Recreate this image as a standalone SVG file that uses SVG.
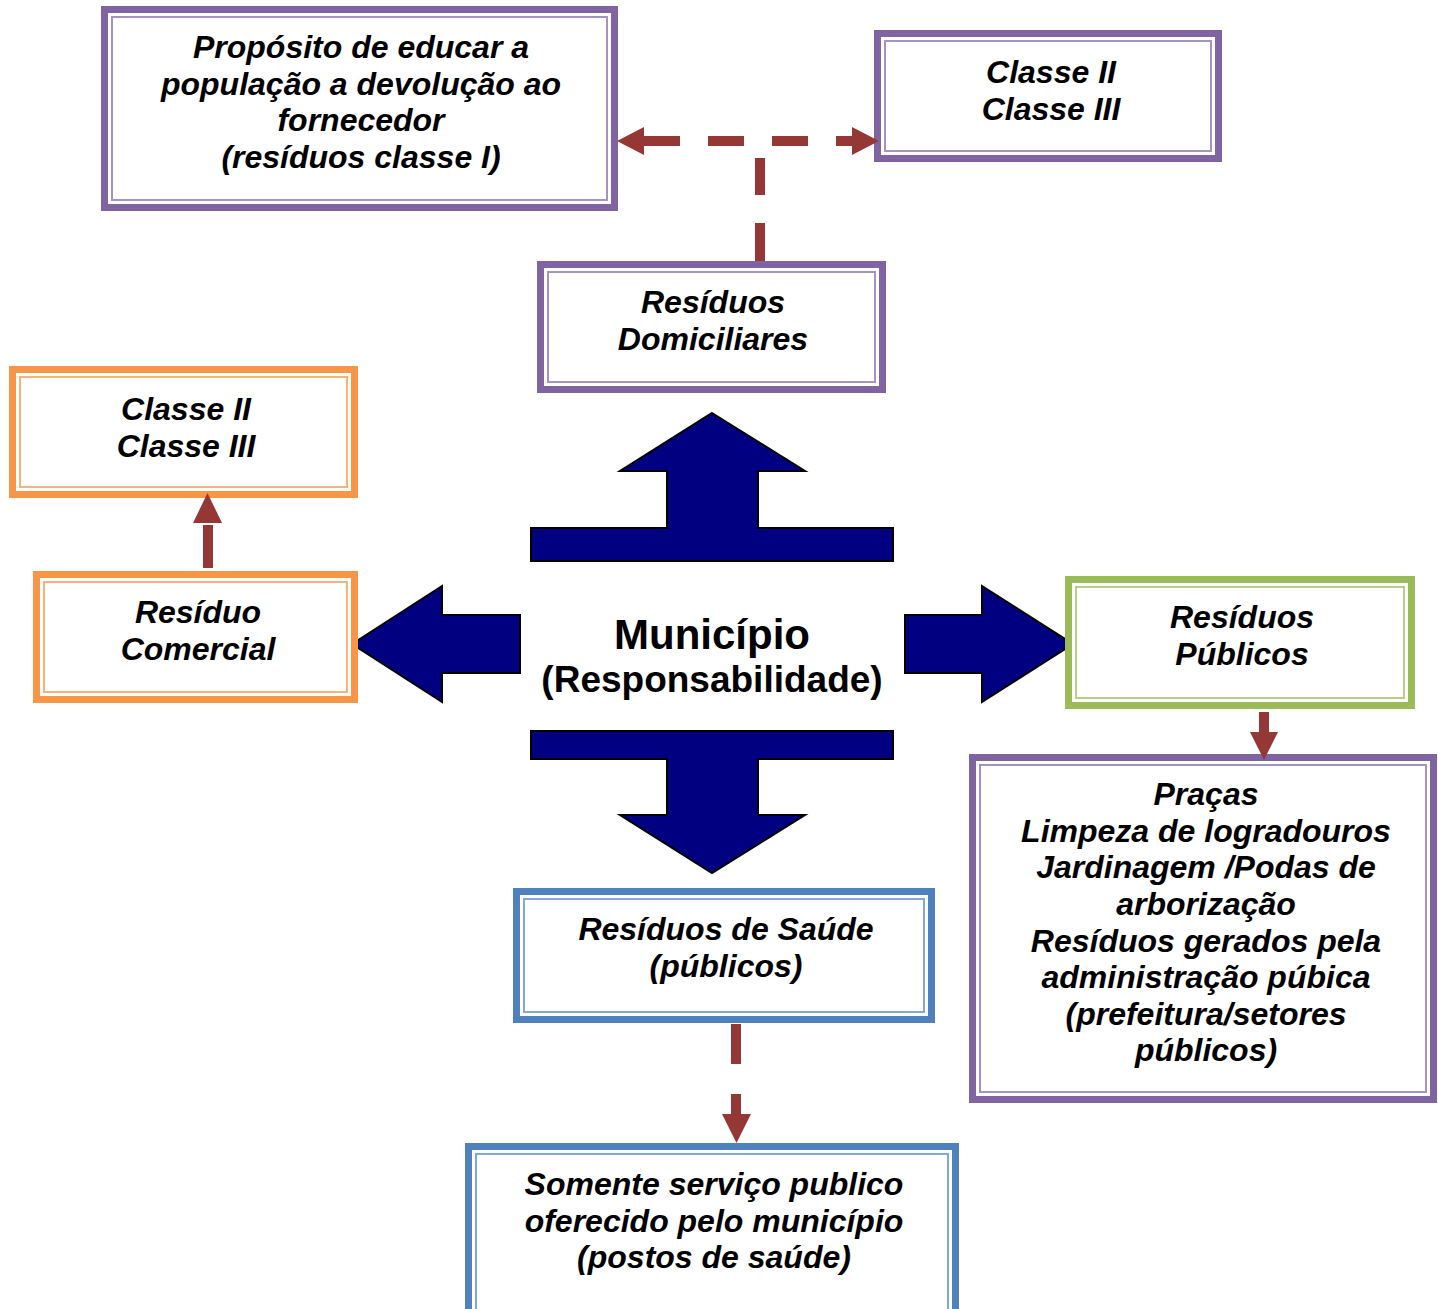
<svg xmlns="http://www.w3.org/2000/svg" width="1438" height="1309" viewBox="0 0 1438 1309">
<style>
.t{font-family:"Liberation Sans",Arial,sans-serif;font-weight:bold;font-style:italic;font-size:32px;fill:#000;text-anchor:middle}
.m{font-family:"Liberation Sans",Arial,sans-serif;font-weight:bold;fill:#000;text-anchor:middle}
.o{fill:#fff;stroke-width:7}
.i{fill:none;stroke-width:2}
.pu .o{stroke:#8064A2}.pu .i{stroke:#A593C6}
.or .o{stroke:#F79646}.or .i{stroke:#F9B27A}
.gr .o{stroke:#9BBB59}.gr .i{stroke:#B8CF88}
.bl .o{stroke:#4F81BD}.bl .i{stroke:#86A8D6}
.big{fill:#000080;stroke:#000;stroke-width:2;stroke-linejoin:miter}
.dl{stroke:#953735;stroke-width:10;fill:none}
.ah{fill:#953735}
</style>
<rect width="1438" height="1309" fill="#fff"/>

<g id="arrows-municipio">
<polygon class="big" points="712,413 805,471 758,471 758,528 893,528 893,561 531,561 531,528 667,528 667,471 620,471"/>
<polygon class="big" points="531,731 893,731 893,759 758,759 758,815 805,815 712,873 620,815 667,815 667,759 531,759"/>
<polygon class="big" points="352,644 442,586 442,615 520,615 520,673 442,673 442,702"/>
<polygon class="big" points="905,615 982,615 982,586 1073,644 982,702 982,673 905,673"/>
</g>

<g id="municipio">
<text class="m" x="712" y="649" font-size="42">Município</text>
<text class="m" x="712" y="692" font-size="37">(Responsabilidade)</text>
</g>

<g id="proposito" class="pu">
<rect class="o" x="104.5" y="9.5" width="510" height="198"/>
<rect class="i" x="112" y="17" width="495" height="183"/>
<text class="t" x="361" y="58">Propósito de educar a</text>
<text class="t" x="361" y="95">população a devolução ao</text>
<text class="t" x="361" y="131">fornecedor</text>
<text class="t" x="361" y="168">(resíduos classe I)</text>
</g>

<g id="classe-dom" class="pu">
<rect class="o" x="877.5" y="33.5" width="341" height="125"/>
<rect class="i" x="885" y="41" width="326" height="110"/>
<text class="t" x="1051" y="83">Classe II</text>
<text class="t" x="1051" y="120">Classe III</text>
</g>

<g id="domiciliares" class="pu">
<rect class="o" x="540.5" y="264.5" width="342" height="125"/>
<rect class="i" x="548" y="272" width="327" height="110"/>
<text class="t" x="713" y="313">Resíduos</text>
<text class="t" x="713" y="350">Domiciliares</text>
</g>

<g id="classe-com" class="or">
<rect class="o" x="12.5" y="369.5" width="342" height="125"/>
<rect class="i" x="20" y="377" width="327" height="110"/>
<text class="t" x="186" y="420">Classe II</text>
<text class="t" x="186" y="457">Classe III</text>
</g>

<g id="comercial" class="or">
<rect class="o" x="36.5" y="574.5" width="318" height="125"/>
<rect class="i" x="44" y="582" width="303" height="110"/>
<text class="t" x="198" y="623">Resíduo</text>
<text class="t" x="198" y="660">Comercial</text>
</g>

<g id="publicos" class="gr">
<rect class="o" x="1068.5" y="579.5" width="343" height="126"/>
<rect class="i" x="1076" y="587" width="328" height="111"/>
<text class="t" x="1242" y="628">Resíduos</text>
<text class="t" x="1242" y="665">Públicos</text>
</g>

<g id="pracas" class="pu">
<rect class="o" x="972.5" y="757.5" width="461" height="342"/>
<rect class="i" x="980" y="765" width="446" height="327"/>
<text class="t" x="1206" y="805">Praças</text>
<text class="t" x="1206" y="842">Limpeza de logradouros</text>
<text class="t" x="1206" y="878">Jardinagem /Podas de</text>
<text class="t" x="1206" y="915">arborização</text>
<text class="t" x="1206" y="952">Resíduos gerados pela</text>
<text class="t" x="1206" y="988">administração púbica</text>
<text class="t" x="1206" y="1025">(prefeitura/setores</text>
<text class="t" x="1206" y="1061">públicos)</text>
</g>

<g id="saude" class="bl">
<rect class="o" x="516.5" y="891.5" width="415" height="128"/>
<rect class="i" x="524" y="899" width="400" height="113"/>
<text class="t" x="726" y="940">Resíduos de Saúde</text>
<text class="t" x="726" y="977">(públicos)</text>
</g>

<g id="postos" class="bl">
<rect class="o" x="468.5" y="1146.5" width="487" height="170"/>
<rect class="i" x="476" y="1154" width="472" height="170"/>
<text class="t" x="714" y="1195">Somente serviço publico</text>
<text class="t" x="714" y="1232">oferecido pelo município</text>
<text class="t" x="714" y="1268">(postos de saúde)</text>
</g>

<g id="connectors">
<path class="dl" d="M644 141 H853" stroke-dasharray="36 28"/>
<polygon class="ah" points="617,141 644,127 644,155"/>
<polygon class="ah" points="879,141 852,127 852,155"/>
<path class="dl" d="M760 261 V158" stroke-dasharray="38 28"/>
<path class="dl" d="M208 568 V525"/>
<polygon class="ah" points="193,523 222,523 207.5,493"/>
<path class="dl" d="M1264 712 V733"/>
<polygon class="ah" points="1250,732 1278,732 1264,760"/>
<path class="dl" d="M736 1024 V1064 M736 1094 V1115"/>
<polygon class="ah" points="722,1114 751,1114 736.5,1143"/>
</g>
</svg>
